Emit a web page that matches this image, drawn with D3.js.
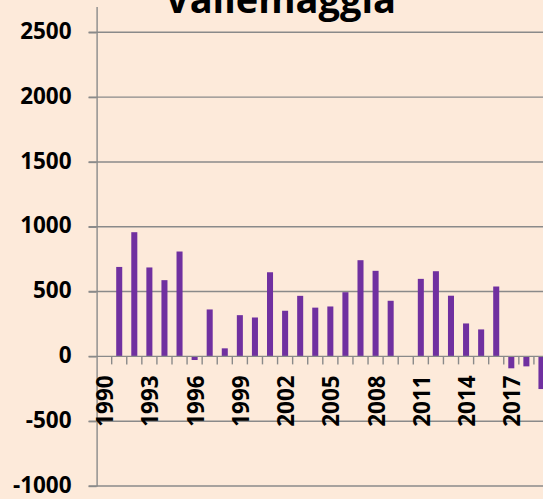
<!DOCTYPE html>
<html>
<head>
<meta charset="utf-8">
<script src="https://cdn.jsdelivr.net/npm/d3@7"></script>
<style>
  body { margin: 0; background: #FDEADA; }
  svg { display: block; }
  text { font-family: "Open Sans", sans-serif; font-weight: 700; }
</style>
</head>
<body>
<div id="chart"></div>
<script>
// yearly values (1990 and 2010 have no bar)
let years = ["1990", "1991", "1992", "1993", "1994", "1995", "1996", "1997", "1998", "1999",
             "2000", "2001", "2002", "2003", "2004", "2005", "2006", "2007", "2008", "2009",
             "2010", "2011", "2012", "2013", "2014", "2015", "2016", "2017", "2018", "2019"];
let values = [null, 690, 958, 686, 588, 809, -28, 362, 62, 318,
              300, 649, 352, 467, 376, 385, 495, 742, 660, 429,
              null, 598, 657, 468, 254, 208, 539, -92, -77, -252];
let xTickLabels = ["1990", "1993", "1996", "1999", "2002", "2005", "2008", "2011", "2014", "2017"];
let yTicks = [-1000, -500, 0, 500, 1000, 1500, 2000, 2500];
let title = "Vallemaggia";

let width = 543,
    height = 499,
    plotLeft = 96.6,
    plotRight = 549,
    gridColor = "#8a8a8a";

let data = years.map(function(y, i) { return {year: y, value: values[i]}; });

let svg = d3.select("#chart").append("svg")
    .attr("width", width)
    .attr("height", height);

let xScale = d3.scaleBand()
    .domain(years)
    .range([plotLeft, plotRight])
    .paddingInner(0.6)
    .paddingOuter(0.3);

let yScale = d3.scaleLinear()
    .domain([-1000, 2700])
    .range([486, 6.4]);

// horizontal gridlines (start at the tick mark, left of the axis)
svg.append("g").attr("class", "grid")
  .selectAll("line")
  .data(yTicks.filter(function(d) { return d !== 0; }))
  .enter().append("line")
    .attr("x1", plotLeft - 8)
    .attr("x2", width)
    .attr("y1", function(d) { return yScale(d); })
    .attr("y2", function(d) { return yScale(d); })
    .attr("stroke", gridColor)
    .attr("stroke-width", 1.4);

// bars
svg.append("g").attr("class", "bars")
  .selectAll("rect")
  .data(data.filter(function(d) { return d.value !== null; }))
  .enter().append("rect")
    .attr("x", function(d) { return xScale(d.year); })
    .attr("width", xScale.bandwidth())
    .attr("y", function(d) { return yScale(Math.max(0, d.value)); })
    .attr("height", function(d) { return Math.abs(yScale(d.value) - yScale(0)); })
    .attr("fill", "#7030A0");

// y axis
let yAxis = d3.axisLeft(yScale)
    .tickValues(yTicks)
    .tickFormat(function(d) { return String(d); })
    .tickSizeInner(8)
    .tickSizeOuter(0)
    .tickPadding(17);

let yAxis_g = svg.append("g")
    .attr("class", "y axis")
    .attr("transform", "translate(" + plotLeft + ",0)")
    .call(yAxis);

yAxis_g.select(".domain").attr("stroke", gridColor).attr("stroke-width", 1.4);
yAxis_g.selectAll(".tick line").attr("stroke", gridColor).attr("stroke-width", 1.4);
yAxis_g.selectAll(".tick text")
    .attr("dy", "0.27em")
    .attr("font-size", 22.5)
    .attr("fill", "#000");

// x axis at zero, ticks between categories
let x0 = yScale(0);
let xAxis_g = svg.append("g")
    .attr("class", "x axis")
    .attr("transform", "translate(0," + x0 + ")");

xAxis_g.append("line")
    .attr("x1", plotLeft - 8)
    .attr("x2", width)
    .attr("stroke", gridColor)
    .attr("stroke-width", 1.4);

xAxis_g.selectAll(".tick")
  .data(years)
  .enter().append("line")
    .attr("class", "tick")
    .attr("x1", function(d) { return xScale(d) + xScale.bandwidth() / 2 + xScale.step() / 2; })
    .attr("x2", function(d) { return xScale(d) + xScale.bandwidth() / 2 + xScale.step() / 2; })
    .attr("y1", 0)
    .attr("y2", 8)
    .attr("stroke", gridColor)
    .attr("stroke-width", 1.4);

xAxis_g.selectAll(".label")
  .data(xTickLabels)
  .enter().append("text")
    .attr("class", "label")
    .attr("transform", function(d) {
      return "translate(" + (xScale(d) + xScale.bandwidth() / 2) + ",0) rotate(-90)";
    })
    .attr("x", -19)
    .attr("dy", "0.4em")
    .attr("text-anchor", "end")
    .attr("font-size", 22.5)
    .attr("fill", "#000")
    .text(function(d) { return d; });

// title, cut off at the top as in the picture
svg.append("text")
    .attr("x", 280.5)
    .attr("y", 13)
    .attr("text-anchor", "middle")
    .attr("font-size", 38)
    .attr("fill", "#000")
    .text(title);
</script>
</body>
</html>
